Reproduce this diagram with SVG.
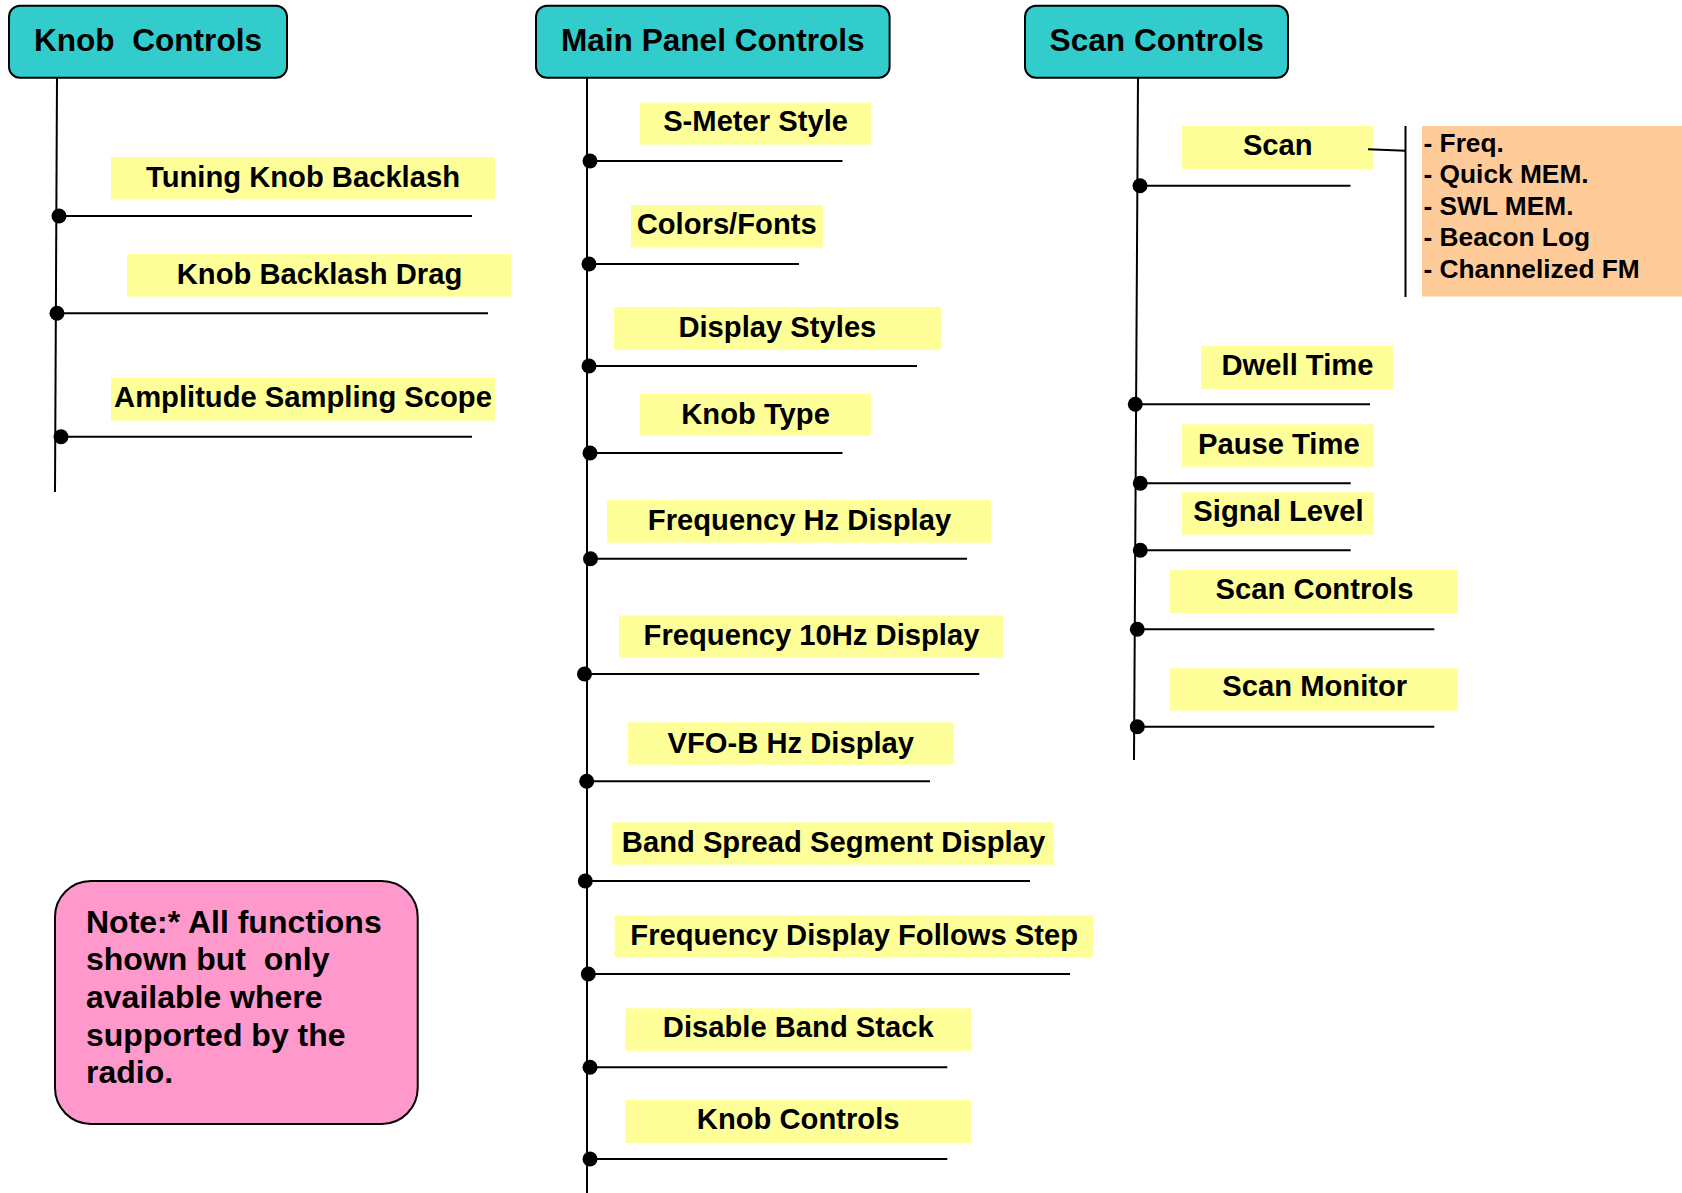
<svg xmlns="http://www.w3.org/2000/svg" width="1682" height="1193" viewBox="0 0 1682 1193">
<style>
text{font-family:"Liberation Sans",Arial,Helvetica,sans-serif;font-weight:bold;fill:#000;white-space:pre}
.hdr rect{fill:#33CCCC;stroke:#000;stroke-width:2}
.hdr text{font-size:31.6px;text-anchor:middle}
.item rect{fill:#FFFF99;stroke:none}
.item text{font-size:29.2px;text-anchor:middle}
.ln{stroke:#000;stroke-width:2;fill:none}
.dot{fill:#000}
.sub{font-size:26.3px}
.note rect{fill:#FF99CC;stroke:#000;stroke-width:2}
.note text{font-size:32px}
</style>
<rect width="1682" height="1193" fill="#fff"/>

<!-- Headers -->
<g id="knob-controls-header" class="hdr"><rect x="9" y="5.7" width="278" height="72" rx="11"/><text x="148" y="50.7">Knob  Controls</text></g>
<g id="main-panel-header" class="hdr"><rect x="536" y="5.7" width="353.6" height="72" rx="11"/><text x="712.8" y="51">Main Panel Controls</text></g>
<g id="scan-controls-header" class="hdr"><rect x="1025" y="5.7" width="263" height="72" rx="11"/><text x="1156.7" y="50.7">Scan Controls</text></g>

<!-- Knob column items -->
<g id="tuning-knob-backlash" class="item"><rect x="111" y="157" width="384" height="42.3"/><text x="303" y="187.3">Tuning Knob Backlash</text></g>
<g id="knob-backlash-drag" class="item"><rect x="127" y="254" width="384" height="42.7"/><text x="319.5" y="284.3">Knob Backlash Drag</text></g>
<g id="amplitude-sampling-scope" class="item"><rect x="111" y="378" width="384" height="42.7"/><text x="303" y="407.3">Amplitude Sampling Scope</text></g>

<!-- Main column items -->
<g id="s-meter-style" class="item"><rect x="640" y="102.6" width="231" height="42"/><text x="755.6" y="131.3">S-Meter Style</text></g>
<g id="colors-fonts" class="item"><rect x="631" y="205" width="192" height="42.6"/><text x="726.7" y="234">Colors/Fonts</text></g>
<g id="display-styles" class="item"><rect x="614" y="307" width="327" height="42.8"/><text x="777.4" y="336.8">Display Styles</text></g>
<g id="knob-type" class="item"><rect x="640" y="394" width="231" height="42"/><text x="755.6" y="424">Knob Type</text></g>
<g id="frequency-hz-display" class="item"><rect x="607" y="500" width="384" height="42.7"/><text x="799.5" y="530.4">Frequency Hz Display</text></g>
<g id="frequency-10hz-display" class="item"><rect x="619" y="615.3" width="384" height="42.4"/><text x="811.5" y="644.7">Frequency 10Hz Display</text></g>
<g id="vfo-b-hz-display" class="item"><rect x="628" y="722.3" width="325.7" height="42.4"/><text x="790.8" y="752.7">VFO-B Hz Display</text></g>
<g id="band-spread-segment-display" class="item"><rect x="612" y="822.3" width="441.7" height="42.4"/><text x="833.5" y="851.7">Band Spread Segment Display</text></g>
<g id="frequency-display-follows-step" class="item"><rect x="614.6" y="915.3" width="478.4" height="42.4"/><text x="854.2" y="945">Frequency Display Follows Step</text></g>
<g id="disable-band-stack" class="item"><rect x="625.3" y="1008.3" width="345.7" height="42.4"/><text x="798.3" y="1036.7">Disable Band Stack</text></g>
<g id="knob-controls-item" class="item"><rect x="625.3" y="1100" width="345.7" height="43"/><text x="798.2" y="1129.3">Knob Controls</text></g>

<!-- Scan column items -->
<g id="scan" class="item"><rect x="1182" y="126" width="191" height="43"/><text x="1277.8" y="155">Scan</text></g>
<g id="scan-modes"><rect x="1422" y="126" width="260" height="170.5" fill="#FFCC99"/>
<text class="sub" x="1423.5" y="151.5">- Freq.</text>
<text class="sub" x="1423.5" y="183.1">- Quick MEM.</text>
<text class="sub" x="1423.5" y="214.7">- SWL MEM.</text>
<text class="sub" x="1423.5" y="246.3">- Beacon Log</text>
<text class="sub" x="1423.5" y="277.9">- Channelized FM</text>
</g>
<g id="dwell-time" class="item"><rect x="1201" y="346" width="192" height="43"/><text x="1297.5" y="375">Dwell Time</text></g>
<g id="pause-time" class="item"><rect x="1182" y="424.3" width="191.7" height="42.4"/><text x="1278.8" y="454">Pause Time</text></g>
<g id="signal-level" class="item"><rect x="1182" y="492.3" width="191.7" height="42.4"/><text x="1278.5" y="521">Signal Level</text></g>
<g id="scan-controls-item" class="item"><rect x="1170" y="570" width="287.7" height="43"/><text x="1314.5" y="599">Scan Controls</text></g>
<g id="scan-monitor" class="item"><rect x="1170" y="668.3" width="287.7" height="42.4"/><text x="1314.8" y="695.7">Scan Monitor</text></g>

<!-- Note -->
<g id="note" class="note"><rect x="55" y="881" width="362.7" height="243" rx="36"/>
<text x="86" y="932.7">Note:* All functions</text>
<text x="86" y="970.3">shown but  only</text>
<text x="86" y="1008">available where</text>
<text x="86" y="1045.7">supported by the</text>
<text x="86" y="1083.3">radio.</text>
</g>

<!-- Connectors -->
<g id="connectors">
<line class="ln" x1="57" y1="78" x2="55" y2="492"/>
<line class="ln" x1="57" y1="216" x2="472" y2="216"/><circle class="dot" cx="59" cy="216" r="7.5"/>
<line class="ln" x1="57" y1="313.3" x2="488" y2="313.3"/><circle class="dot" cx="57" cy="313.3" r="7.5"/>
<line class="ln" x1="56" y1="436.7" x2="472" y2="436.7"/><circle class="dot" cx="61" cy="436.7" r="7.5"/>

<line class="ln" x1="587" y1="78" x2="587" y2="1193"/>
<line class="ln" x1="587" y1="161" x2="842.5" y2="161"/><circle class="dot" cx="590" cy="161" r="7.5"/>
<line class="ln" x1="587" y1="264" x2="799" y2="264"/><circle class="dot" cx="589" cy="264" r="7.5"/>
<line class="ln" x1="587" y1="366" x2="917" y2="366"/><circle class="dot" cx="589" cy="366" r="7.5"/>
<line class="ln" x1="587" y1="453" x2="842.5" y2="453"/><circle class="dot" cx="590" cy="453" r="7.5"/>
<line class="ln" x1="587" y1="558.7" x2="967" y2="558.7"/><circle class="dot" cx="590.5" cy="558.7" r="7.5"/>
<line class="ln" x1="587" y1="674" x2="979.3" y2="674"/><circle class="dot" cx="584.5" cy="674" r="7.5"/>
<line class="ln" x1="587" y1="781.3" x2="930" y2="781.3"/><circle class="dot" cx="586.7" cy="781.3" r="7.5"/>
<line class="ln" x1="587" y1="881" x2="1030" y2="881"/><circle class="dot" cx="585.3" cy="881" r="7.5"/>
<line class="ln" x1="587" y1="974" x2="1070" y2="974"/><circle class="dot" cx="588.3" cy="974" r="7.5"/>
<line class="ln" x1="587" y1="1067.3" x2="947.3" y2="1067.3"/><circle class="dot" cx="590" cy="1067.3" r="7.5"/>
<line class="ln" x1="587" y1="1159" x2="947.3" y2="1159"/><circle class="dot" cx="590" cy="1159" r="7.5"/>

<line class="ln" x1="1138" y1="78" x2="1134" y2="760"/>
<line class="ln" x1="1137" y1="185.7" x2="1350.5" y2="185.7"/><circle class="dot" cx="1140" cy="185.7" r="7.5"/>
<line class="ln" x1="1368" y1="149.3" x2="1405.5" y2="150.7"/>
<line class="ln" x1="1405.5" y1="126" x2="1405.5" y2="297"/>
<line class="ln" x1="1136" y1="404.3" x2="1370" y2="404.3"/><circle class="dot" cx="1135.3" cy="404.3" r="7.5"/>
<line class="ln" x1="1136" y1="483.3" x2="1350.7" y2="483.3"/><circle class="dot" cx="1140.3" cy="483.3" r="7.5"/>
<line class="ln" x1="1135.5" y1="550.3" x2="1350.7" y2="550.3"/><circle class="dot" cx="1140.3" cy="550.3" r="7.5"/>
<line class="ln" x1="1135" y1="629.3" x2="1434.3" y2="629.3"/><circle class="dot" cx="1137.3" cy="629.3" r="7.5"/>
<line class="ln" x1="1134.5" y1="726.7" x2="1434.3" y2="726.7"/><circle class="dot" cx="1137.3" cy="726.7" r="7.5"/>
</g>
</svg>
